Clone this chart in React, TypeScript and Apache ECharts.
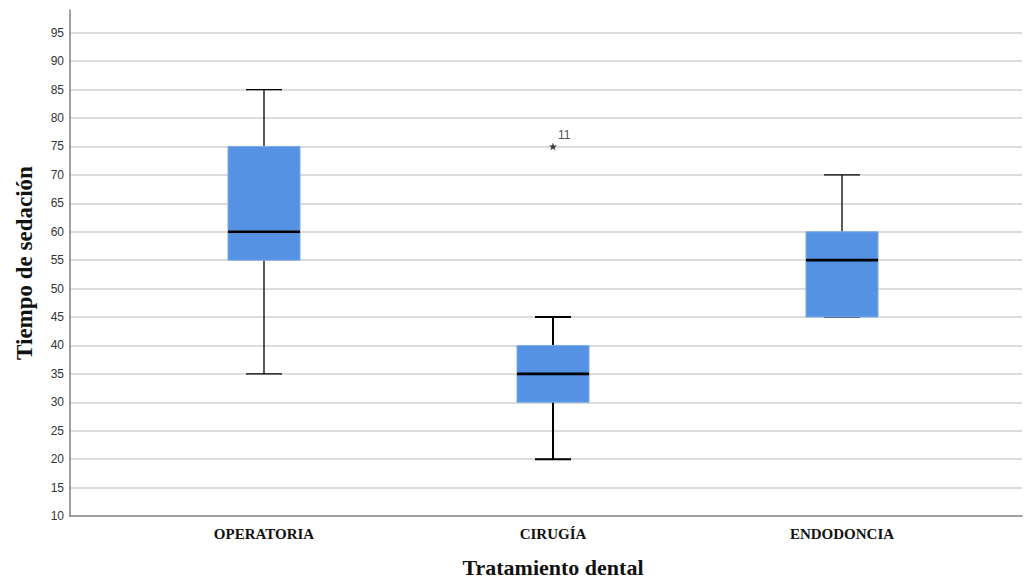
import React, { useEffect, useRef } from "react";
import * as echarts from "echarts";

const categories = ["OPERATORIA", "CIRUGÍA", "ENDODONCIA"];
const mins = [35, 20, 45];
const q1s = [55, 30, 45];
const medians = [60, 35, 55];
const q3s = [75, 40, 60];
const maxs = [85, 45, 70];
const whiskerWidths = [1.3, 2, 1.3];
const outlierCats = ["CIRUGÍA"];
const outlierValues = [75];
const outlierLabels = ["11"];

const yMin = 10;
const yMax = 99;
const yStep = 5;

export default function App() {
  const ref = useRef<HTMLDivElement>(null);
  useEffect(() => {
    if (!ref.current) return;
    const chart = echarts.init(ref.current, null, { renderer: "svg" });
    const serif = "'Liberation Serif', 'DejaVu Serif', serif";
    const sans = "'Liberation Sans', Arial, sans-serif";
    const boxData = categories.map((c, i) => [i, mins[i], q1s[i], medians[i], q3s[i], maxs[i], whiskerWidths[i]]);
    chart.setOption({
      animation: false,
      backgroundColor: "#ffffff",
      grid: [
        { left: 70, right: 2, top: 10, bottom: 63, outerBoundsMode: "none", containLabel: false },
        { left: 119.5, right: 37.5, top: 10, bottom: 63, outerBoundsMode: "none", containLabel: false },
      ],
      xAxis: [
        {
          type: "value",
          gridIndex: 0,
          min: 0,
          max: 1,
          axisLine: { show: true, lineStyle: { color: "#808080", width: 1.5 } },
          axisTick: { show: false },
          axisLabel: { show: false },
          splitLine: { show: false },
        },
        {
          type: "category",
          gridIndex: 1,
          data: categories,
          axisLine: { show: false },
          axisTick: { show: false },
          axisLabel: { fontFamily: serif, fontWeight: "bold", fontSize: 15, color: "#111", margin: 10 },
          name: "Tratamiento dental",
          nameLocation: "middle",
          nameGap: 40,
          nameTextStyle: { fontFamily: serif, fontWeight: "bold", fontSize: 22, color: "#111" },
        },
      ],
      yAxis: [
        {
          type: "value",
          gridIndex: 0,
          min: yMin,
          max: yMax,
          interval: yStep,
          axisLine: { show: true, lineStyle: { color: "#808080", width: 1.5 } },
          axisTick: { show: false },
          axisLabel: { showMaxLabel: false, fontFamily: sans, fontSize: 12, color: "#333", margin: 6 },
          splitLine: { show: true, showMaxLine: false, showMinLine: false, lineStyle: { color: "#d0d0d0", width: 1.5 } },
          name: "Tiempo de sedación",
          nameLocation: "middle",
          nameGap: 34,
          nameRotate: 90,
          nameTextStyle: { fontFamily: serif, fontWeight: "bold", fontSize: 23, color: "#111" },
        },
        {
          type: "value",
          gridIndex: 1,
          min: yMin,
          max: yMax,
          show: false,
          splitLine: { show: false },
        },
      ],
      series: [
        {
          type: "custom",
          xAxisIndex: 1,
          yAxisIndex: 1,
          data: boxData,
          renderItem: (params: any, api: any) => {
            const idx = api.value(0);
            const pMin = api.coord([idx, api.value(1)]);
            const pQ1 = api.coord([idx, api.value(2)]);
            const pMed = api.coord([idx, api.value(3)]);
            const pQ3 = api.coord([idx, api.value(4)]);
            const pMax = api.coord([idx, api.value(5)]);
            const ww = api.value(6);
            const cx = pMed[0];
            const bw = 72;
            const cw = 36;
            const wStyle = { stroke: "#000", lineWidth: ww };
            return {
              type: "group",
              children: [
                { type: "line", shape: { x1: cx, y1: pQ3[1], x2: cx, y2: pMax[1] }, style: wStyle },
                { type: "line", shape: { x1: cx, y1: pQ1[1], x2: cx, y2: pMin[1] }, style: wStyle },
                { type: "line", shape: { x1: cx - cw / 2, y1: pMax[1], x2: cx + cw / 2, y2: pMax[1] }, style: wStyle },
                { type: "line", shape: { x1: cx - cw / 2, y1: pMin[1], x2: cx + cw / 2, y2: pMin[1] }, style: wStyle },
                {
                  type: "rect",
                  shape: { x: cx - bw / 2, y: pQ3[1], width: bw, height: pQ1[1] - pQ3[1] },
                  style: { fill: "#5592e3", stroke: "#7aaaea", lineWidth: 1 },
                },
                { type: "line", shape: { x1: cx - bw / 2, y1: pMed[1], x2: cx + bw / 2, y2: pMed[1] }, style: { stroke: "#000", lineWidth: 2.6 } },
              ],
            };
          },
        },
        {
          type: "scatter",
          xAxisIndex: 1,
          yAxisIndex: 1,
          data: outlierCats.map((c, i) => ({ value: [c, outlierValues[i]], label: { formatter: outlierLabels[i] } })),
          symbol: "path://M5,0 L6.2,3.8 L10,3.8 L7,6.2 L8.1,10 L5,7.6 L1.9,10 L3,6.2 L0,3.8 L3.8,3.8Z",
          symbolSize: 8,
          itemStyle: { color: "#111" },
          label: {
            show: true,
            position: [9, -13],
            fontFamily: sans,
            fontSize: 12,
            color: "#222",
          },
        },
      ],
    });
    return () => chart.dispose();
  }, []);
  return <div ref={ref} style={{ width: 1024, height: 579, position: "absolute", left: 0, top: 0 }} />;
}
